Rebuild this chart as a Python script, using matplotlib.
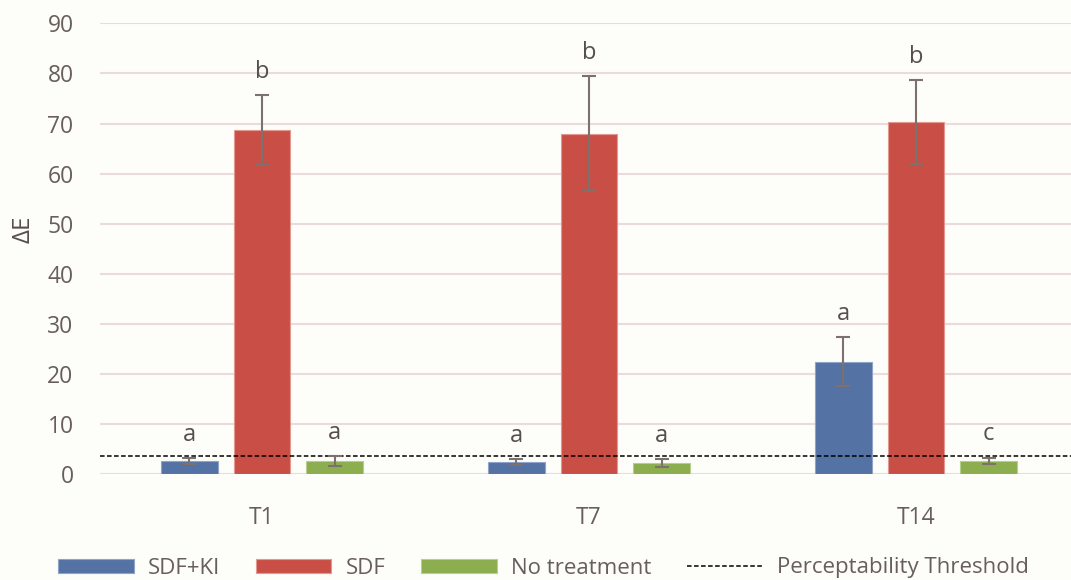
import matplotlib
matplotlib.use("Agg")
import matplotlib.pyplot as plt
from matplotlib.patches import Patch
from matplotlib.lines import Line2D
import numpy as np

plt.rcParams['font.family'] = ['Open Sans', 'DejaVu Sans']

times = ["T1", "T7", "T14"]
series = ["SDF+KI", "SDF", "No treatment"]
sdf_ki = [2.7, 2.5, 22.5]
sdf_ki_err = [0.6, 0.6, 4.9]
sdf = [68.7, 68.0, 70.3]
sdf_err = [7.0, 11.5, 8.3]
no_treat = [2.7, 2.3, 2.7]
no_treat_err = [1.0, 0.8, 0.65]
letters_ki = ["a", "a", "a"]
letters_sdf = ["b", "b", "b"]
letters_nt = ["a", "a", "c"]
threshold = 3.7
yticks = [0, 10, 20, 30, 40, 50, 60, 70, 80, 90]

colors = ["#5572a4", "#c94f46", "#8cae4e"]
edges = ["#8ea4c8", "#e29890", "#b7cf8c"]
txt_col = "#685e5a"
lab_col = "#564f4c"
err_col = "#7d716d"
bg = "#fdfdf9"

fig = plt.figure(figsize=(10.71, 5.80), dpi=100, facecolor=bg)
ax = fig.add_axes([100/1071, 1-474.3/580, 1-100/1071, (474.3-23.3)/580])
ax.set_facecolor(bg)

x = np.arange(len(times))
w = 0.173
off = 0.222
data = [(sdf_ki, sdf_ki_err, letters_ki), (sdf, sdf_err, letters_sdf), (no_treat, no_treat_err, letters_nt)]
for i, (vals, errs, lets) in enumerate(data):
    xs = x + (i - 1) * off
    ax.bar(xs, vals, width=w, color=colors[i], edgecolor=edges[i], linewidth=0.8, zorder=2, label=series[i])
    ax.errorbar(xs, vals, yerr=errs, fmt='none', ecolor=err_col, elinewidth=1.5,
                capsize=5, capthick=1.5, zorder=4)
    for xi, v, e, l in zip(xs, vals, errs, lets):
        ax.text(xi, v + e + 4.6, l, ha='center', va='center', fontsize=17, color=lab_col, zorder=5)

ax.axhline(threshold, color='black', linestyle=(0, (3, 1.6)), linewidth=1.1, zorder=3)

ax.set_ylim(0, 90)
ax.set_xlim((100-262)/327, (1071-262)/327)
ax.set_yticks(yticks)
ax.set_xticks(x)
ax.set_xticklabels(times)
ax.tick_params(axis='both', length=0, labelsize=16.5, labelcolor=txt_col)
ax.tick_params(axis='y', pad=19)
ax.tick_params(axis='x', pad=23)
ax.yaxis.grid(True, color="#ebdbdb", linewidth=1.5, zorder=0)
ax.set_axisbelow(True)
for s in ax.spines.values():
    s.set_visible(False)

fig.text(24/1071, 1-229/580, "ΔE", rotation=90, ha='center', va='center', fontsize=17.5, color=lab_col)

handles = [Patch(facecolor=colors[i], edgecolor=edges[i], linewidth=0.8) for i in range(3)]
handles.append(Line2D([0], [0], color='black', linestyle=(0, (3, 1.6)), linewidth=1.1))
labels = series + ["Perceptability Threshold"]
leg = fig.legend(handles, labels, loc='center left', bbox_to_anchor=(58/1071, 1-568/580),
                 ncol=4, frameon=False, fontsize=16, handlelength=3.4, handleheight=0.6,
                 handletextpad=0.65, columnspacing=1.6, borderpad=0, borderaxespad=0)
for t in leg.get_texts():
    t.set_color(txt_col)

fig.savefig("out.png", dpi=100, facecolor=bg)
